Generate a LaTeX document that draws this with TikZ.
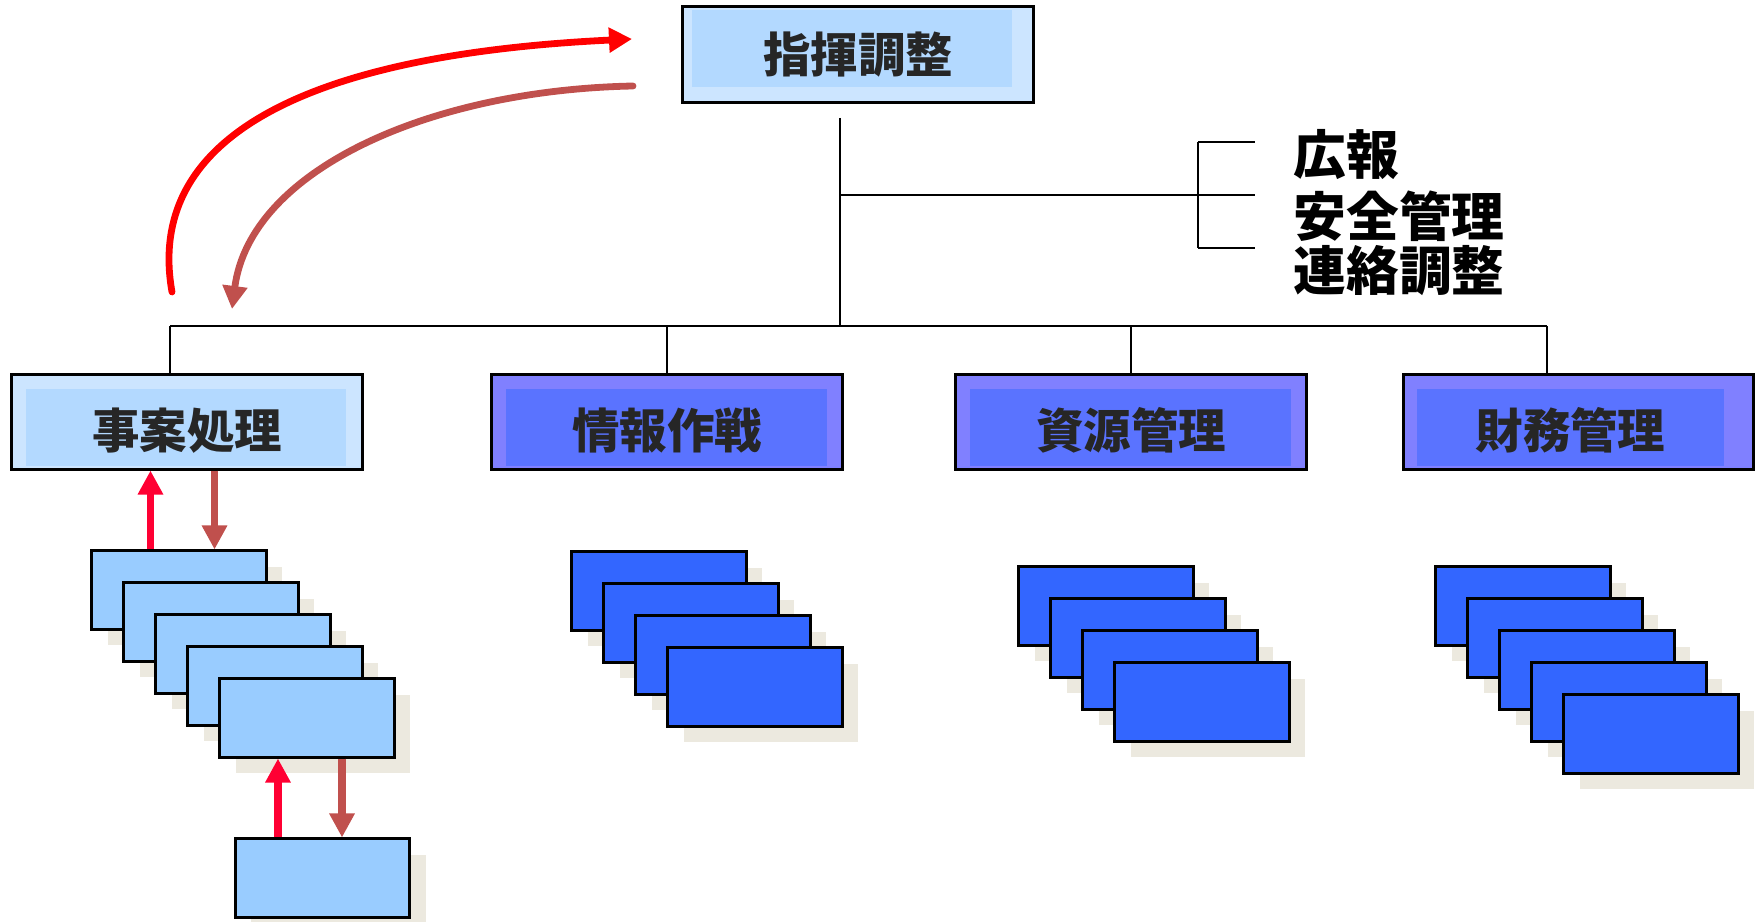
\documentclass[tikz,border=0pt]{standalone}
\usepackage{fontspec}
\setmainfont{Noto Sans CJK JP}
\usetikzlibrary{arrows.meta, shadows}

\definecolor{hqout}{HTML}{CCE5FF}
\definecolor{hqin}{HTML}{B3D9FF}
\definecolor{unitout}{HTML}{8080FF}
\definecolor{unitin}{HTML}{5A73FF}
\definecolor{lightslip}{HTML}{99CCFF}
\definecolor{darkslip}{HTML}{3366FF}
\definecolor{shade}{HTML}{ECE9DF}
\definecolor{upred}{HTML}{FF0033}
\definecolor{downred}{HTML}{C0504D}
\definecolor{labeltext}{HTML}{262626}

\begin{document}
\begin{tikzpicture}[
          x=0.01cm, y=-0.01cm, % one unit per pixel, y running down
          link/.style={draw, line width=0.6pt},
          hqbox/.style={draw, line width=0.85pt, fill=hqout, minimum width=3.5cm, minimum height=0.95cm,
            font=\fontsize{13.5pt}{16pt}\selectfont\bfseries, text=labeltext,
            path picture={\fill[hqin] ([xshift=0.09cm,yshift=-0.03cm]path picture bounding box.north west)
              rectangle ([xshift=-0.21cm,yshift=0.15cm]path picture bounding box.south east);}},
          unitbox/.style n args={3}{draw, line width=0.85pt, fill=#1, minimum width=3.5cm, minimum height=0.94cm,
            font=\fontsize{13.5pt}{16pt}\selectfont\bfseries, text=labeltext,
            text height=15pt, text depth=0pt, % label sits a little low
            path picture={\fill[#2] ([xshift=0.14cm,yshift=-0.14cm]path picture bounding box.north west)
              rectangle ([xshift=-#3,yshift=0.03cm]path picture bounding box.south east);}},
          sidelabel/.style={anchor=west, inner sep=0pt, font=\fontsize{15pt}{17pt}\selectfont\bfseries},
          slip/.style={draw, line width=0.85pt, minimum width=1.74cm, minimum height=0.78cm, inner sep=0pt,
            drop shadow={shadow xshift=0.16cm, shadow yshift=-0.16cm, fill=shade, opacity=1}},
          uparr/.style={draw=upred, line width=0.075cm, -{Triangle[length=0.24cm, width=0.24cm]}},
          downarr/.style={draw=downred, line width=0.075cm, -{Triangle[length=0.24cm, width=0.24cm]}}
        ]
        \useasboundingbox (0,0) rectangle (1758,922);

        % top and the four units
        \node[hqbox] (hq) at (858,54.5) {指揮調整};
        \node[unitbox={hqout}{hqin}{0.16cm}] (case) at (187,422) {事案処理};
        \node[unitbox={unitout}{unitin}{0.15cm}] (intel) at (667,422) {情報作戦};
        \node[unitbox={unitout}{unitin}{0.15cm}] (res) at (1131,422) {資源管理};
        \node[unitbox={unitout}{unitin}{0.30cm}] (fin) at (1578.5,422) {\hspace*{-0.16cm}財務管理};

        % staff functions
        \node[sidelabel] (pr) at (1293,155) {広報};
        \node[sidelabel] (safety) at (1293,216) {安全管理};
        \node[sidelabel] (liaison) at (1293,271) {連絡調整};

        % tree lines
        \coordinate (stem) at (840,118);
        \coordinate (bus) at (840,326);
        \coordinate (d1) at (170,326);
        \coordinate (d4) at (1547,326);
        \draw[link] (stem) -- (bus);
        \draw[link] (d1) -- (d4);
        \draw[link] (d1) -- (d1 |- case.north);
        \draw[link] (intel.north |- bus) -- (intel.north);
        \draw[link] (res.north |- bus) -- (res.north);
        \draw[link] (d4) -- (d4 |- fin.north);

        % bracket to staff
        \coordinate (bt) at (1198,142);
        \coordinate (bm) at (1198,195);
        \coordinate (bb) at (1198,248);
        \draw[link] (bm -| stem) -- (bm) -- ++(57,0);
        \draw[link] (bt) -- (bb);
        \draw[link] (bt) -- ++(57,0);
        \draw[link] (bb) -- ++(57,0);

        % stacks of sheets
        \foreach \i in {1,...,5}
          \node[slip, fill=lightslip] (case\i) at ({179+32*(\i-1)}, {590+32*(\i-1)}) {};
        \node[slip, fill=lightslip] (casebase) at (322.5,878) {};
        \foreach \i in {1,...,4}
          \node[slip, fill=darkslip] (intel\i) at ({659+32*(\i-1)}, {591+32*(\i-1)}) {};
        \foreach \i in {1,...,4}
          \node[slip, fill=darkslip] (res\i) at ({1106+32*(\i-1)}, {606+32*(\i-1)}) {};
        \foreach \i in {1,...,5}
          \node[slip, fill=darkslip] (fin\i) at ({1523+32*(\i-1)}, {606+32*(\i-1)}) {};

        % reporting up and down
        \coordinate (up1) at ([xshift=0.6cm]case1.north west);
        \coordinate (dn1) at ([xshift=1.24cm]case1.north west);
        \coordinate (up2) at ([xshift=0.44cm]casebase.north west);
        \coordinate (dn2) at ([xshift=1.08cm]casebase.north west);
        \draw[uparr] (up1) -- (up1 |- case.south);
        \draw[downarr] (dn1 |- case.south) -- (dn1);
        \draw[uparr] (up2) -- (up2 |- case5.south);
        \draw[downarr] (dn2 |- case5.south) -- (dn2);

        \coordinate (loopup) at (172,292);
        \coordinate (loopin) at (632,39);
        \coordinate (loopout) at (633,86);
        \coordinate (loopdown) at (232,309);
        \draw[draw=red, line width=0.068cm, line cap=round, -{Triangle[length=0.23cm, width=0.24cm]}]
          (loopup) .. controls (145,140) and (300,55) .. (loopin);
        \draw[draw=downred, line width=0.068cm, line cap=round, -{Triangle[length=0.23cm, width=0.24cm]}]
          (loopout) .. controls (430,90) and (250,170) .. (loopdown);
\end{tikzpicture}
\end{document}
